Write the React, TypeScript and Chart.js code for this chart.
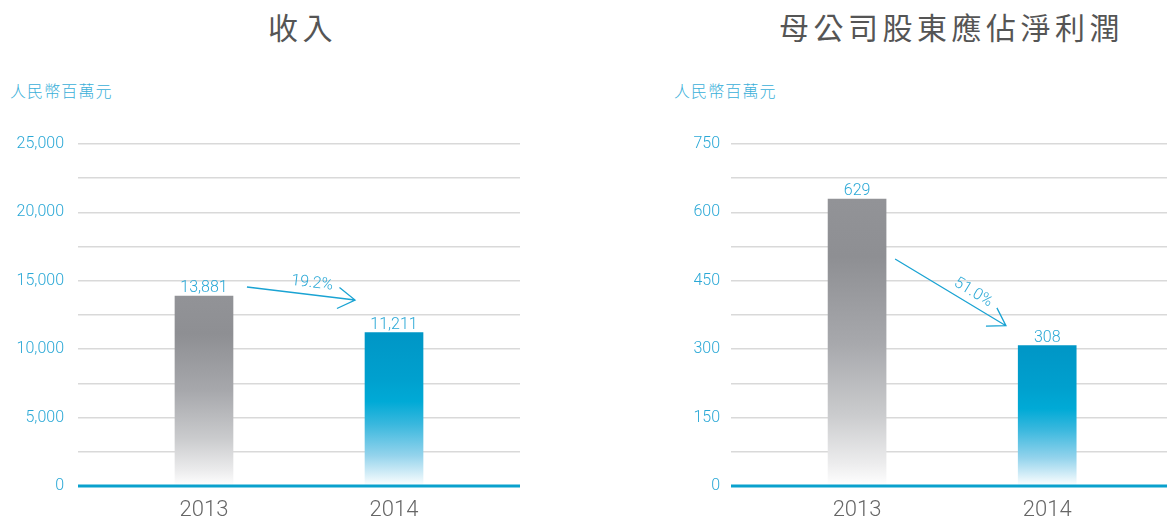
import React, { useEffect, useRef } from "react";
import { Chart, registerables } from "chart.js";

Chart.register(...registerables);

// ---- data ----
const years = ["2013", "2014"];
const revenue = [13881, 11211];
const profit = [629, 308];
const revenueLabelTicks = [0, 5000, 10000, 15000, 20000, 25000];
const profitLabelTicks = [0, 150, 300, 450, 600, 750];
const changes = ["19.2%", "51.0%"];
const titles = ["收入", "母公司股東應佔淨利潤"];
const unitLabel = "人民幣百萬元";

const NUM_FONT = "Roboto, 'Liberation Sans', sans-serif";
const CJK_FONT = "'Noto Sans CJK TC', 'Noto Sans CJK SC', sans-serif";
const CYAN = "#2aa8d6";

const GRAY_STOPS: [number, string][] = [
  [0, "#929397"],
  [0.2, "#8e8f93"],
  [0.5, "#a7a8ac"],
  [0.75, "#cacbcd"],
  [0.92, "#ececed"],
  [1, "#ffffff"],
];
const BLUE_STOPS: [number, string][] = [
  [0, "#0096c6"],
  [0.3, "#00a0ce"],
  [0.45, "#00aad6"],
  [0.6, "#3ab8de"],
  [0.8, "#93d3ec"],
  [1, "#ffffff"],
];

type Arrow = { from: [number, number]; to: [number, number]; t: number; off: number };

type PanelProps = {
  values: number[];
  labelTicks: number[];
  max: number;
  step: number;
  xMin: number;
  xMax: number;
  left: number;
  width: number;
  axisWidth: number;
  tickPad: number;
  arrow: Arrow;
  change: string;
};

function BarPanel(p: PanelProps) {
  const ref = useRef<HTMLCanvasElement | null>(null);
  useEffect(() => {
    if (!ref.current) return;
    const overlay = {
      id: "overlay",
      afterDatasetsDraw(chart: any) {
        const ctx = chart.ctx as CanvasRenderingContext2D;
        const { left, right } = chart.chartArea;
        const xs = chart.scales.x;
        const ys = chart.scales.y;
        const y0 = ys.getPixelForValue(0);
        ctx.save();
        // baseline
        ctx.strokeStyle = "#0aa1cd";
        ctx.lineWidth = 3;
        ctx.beginPath();
        ctx.moveTo(left, y0);
        ctx.lineTo(right, y0);
        ctx.stroke();
        // value labels
        ctx.fillStyle = CYAN;
        ctx.font = `300 16px ${NUM_FONT}`;
        ctx.textAlign = "center";
        ctx.textBaseline = "alphabetic";
        const meta = chart.getDatasetMeta(0);
        meta.data.forEach((bar: any, i: number) => {
          ctx.fillText(p.values[i].toLocaleString("en-US"), bar.x, bar.y - 4);
        });
        // arrow
        const x1 = xs.getPixelForValue(p.arrow.from[0]);
        const y1 = ys.getPixelForValue(p.arrow.from[1]);
        const x2 = xs.getPixelForValue(p.arrow.to[0]);
        const y2 = ys.getPixelForValue(p.arrow.to[1]);
        const ang = Math.atan2(y2 - y1, x2 - x1);
        ctx.strokeStyle = "#1aa3d3";
        ctx.lineWidth = 1.3;
        ctx.beginPath();
        ctx.moveTo(x1, y1);
        ctx.lineTo(x2, y2);
        const hl = 20;
        const ha = (32 * Math.PI) / 180;
        ctx.moveTo(x2 - hl * Math.cos(ang - ha), y2 - hl * Math.sin(ang - ha));
        ctx.lineTo(x2, y2);
        ctx.lineTo(x2 - hl * Math.cos(ang + ha), y2 - hl * Math.sin(ang + ha));
        ctx.stroke();
        // change label
        const cx = x1 + (x2 - x1) * p.arrow.t + Math.sin(ang) * p.arrow.off;
        const cy = y1 + (y2 - y1) * p.arrow.t - Math.cos(ang) * p.arrow.off;
        ctx.translate(cx, cy);
        ctx.rotate(ang);
        ctx.textBaseline = "middle";
        ctx.fillText(p.change, 0, 0);
        ctx.restore();
      },
    };

    const chart = new Chart(ref.current, {
      type: "bar",
      data: {
        datasets: [
          {
            data: p.values.map((v, i) => ({ x: i, y: v })),
            barThickness: 58,
            borderWidth: 0,
            backgroundColor: (c: any) => {
              const ch = c.chart;
              if (!ch.chartArea || c.type !== "data") return "#999";
              const ys = ch.scales.y;
              const top = ys.getPixelForValue(p.values[c.dataIndex]);
              const bottom = ys.getPixelForValue(0);
              const g = ch.ctx.createLinearGradient(0, top, 0, bottom);
              const stops = c.dataIndex === 0 ? GRAY_STOPS : BLUE_STOPS;
              stops.forEach(([o, col]) => g.addColorStop(o, col));
              return g;
            },
          } as any,
        ],
      },
      options: {
        animation: false,
        responsive: false,
        devicePixelRatio: 1,
        layout: { padding: { top: 144, left: 0, right: 0, bottom: 0 } },
        plugins: {
          legend: { display: false },
          tooltip: { enabled: false },
        },
        scales: {
          x: {
            type: "linear",
            min: p.xMin,
            max: p.xMax,
            offset: false,
            grid: { display: false },
            border: { display: false },
            afterBuildTicks: (s: any) => {
              s.ticks = years.map((_, i) => ({ value: i }));
            },
            afterFit: (s: any) => {
              s.height = 34;
            },
            ticks: {
              autoSkip: false,
              maxRotation: 0,
              padding: 3,
              color: "#666666",
              font: { size: 22, family: NUM_FONT, weight: "300" as any },
              callback: (v: any) => years[v as number] ?? "",
            },
          },
          y: {
            type: "linear",
            min: 0,
            max: p.max,
            border: { display: false },
            grid: {
              drawTicks: false,
              lineWidth: 1.5,
              color: (c: any) => (c.tick && c.tick.value === 0 ? "rgba(0,0,0,0)" : "#d9d9d9"),
            },
            afterFit: (s: any) => {
              s.width = p.axisWidth;
            },
            ticks: {
              stepSize: p.step,
              padding: p.tickPad,
              color: CYAN,
              font: { size: 16, family: NUM_FONT, weight: "300" as any },
              callback: (v: any) =>
                p.labelTicks.includes(v as number) ? (v as number).toLocaleString("en-US") : "",
            },
          },
        },
      } as any,
      plugins: [overlay],
    });
    return () => chart.destroy();
  }, []);
  return (
    <canvas
      ref={ref}
      width={p.width}
      height={520}
      style={{ position: "absolute", left: p.left, top: 0, width: p.width, height: 520 }}
    />
  );
}

const titleStyle: React.CSSProperties = {
  position: "absolute",
  top: 11,
  font: `400 30px ${CJK_FONT}`,
  lineHeight: "30px",
  letterSpacing: 4.5,
  color: "#555555",
  whiteSpace: "nowrap",
};
const unitStyle: React.CSSProperties = {
  position: "absolute",
  top: 82,
  font: `300 16px ${CJK_FONT}`,
  lineHeight: "16px",
  letterSpacing: 1.1,
  color: "#3aafd9",
  whiteSpace: "nowrap",
};

export default function App() {
  return (
    <div
      style={{
        position: "absolute",
        left: 0,
        top: 0,
        width: 1167,
        height: 520,
        background: "#ffffff",
        overflow: "hidden",
      }}
    >
      <div style={{ ...titleStyle, left: 268 }}>{titles[0]}</div>
      <div style={{ ...titleStyle, left: 779 }}>{titles[1]}</div>
      <div style={{ ...unitStyle, left: 10 }}>{unitLabel}</div>
      <div style={{ ...unitStyle, left: 674 }}>{unitLabel}</div>
      <BarPanel
        values={revenue}
        labelTicks={revenueLabelTicks}
        max={25000}
        step={2500}
        xMin={-0.663}
        xMax={1.663}
        left={0}
        width={520}
        axisWidth={78}
        tickPad={14}
        arrow={{ from: [0.226, 14547], to: [0.795, 13596], t: 0.59, off: 11.5 }}
        change={changes[0]}
      />
      <BarPanel
        values={profit}
        labelTicks={profitLabelTicks}
        max={750}
        step={75}
        xMin={-0.663}
        xMax={1.63}
        left={671}
        width={496}
        axisWidth={60}
        tickPad={11}
        arrow={{ from: [0.2, 497.8], to: [0.783, 351.5], t: 0.65, off: 11.5 }}
        change={changes[1]}
      />
    </div>
  );
}
